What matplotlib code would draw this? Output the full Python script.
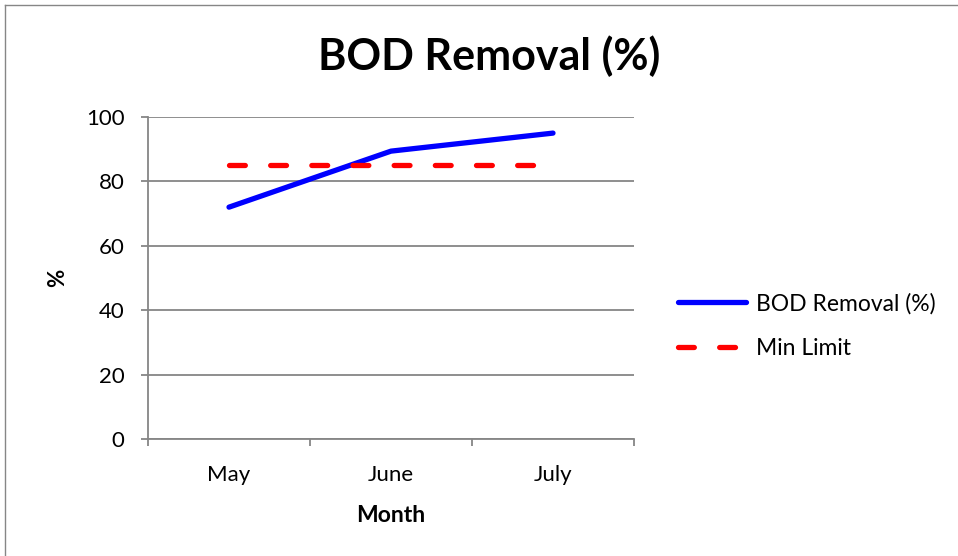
import matplotlib.pyplot as plt
from matplotlib.lines import Line2D

# Data
months = ["May", "June", "July"]
bod_removal = [72, 89.4, 95]
min_limit = [85, 85, 85]
y_ticks = [0, 20, 40, 60, 80, 100]

plt.rcParams['font.family'] = ['Lato', 'DejaVu Sans']
grey = "#868686"

fig = plt.figure(figsize=(9.58, 5.56), dpi=100)
ax = fig.add_axes([148 / 958, 1 - 439 / 556, 486 / 958, 322 / 556])

x = list(range(len(months)))
ax.plot(x, bod_removal, color="#0000ff", lw=3.8, solid_capstyle="round",
        solid_joinstyle="round", label="BOD Removal (%)")
ax.plot(x, min_limit, color="#ff0000", lw=3.8, dashes=(3.0, 4.8),
        dash_capstyle="round", label="Min Limit")

ax.set_xlim(-0.5, len(months) - 0.5)
ax.set_ylim(0, 100)
ax.set_yticks(y_ticks)
ax.yaxis.grid(True, color=grey, lw=1.3)
ax.set_axisbelow(True)

ax.set_xticks(x)
ax.set_xticklabels(months)
ax.set_xticks([i - 0.5 for i in range(len(months) + 1)], minor=True)
ax.tick_params(axis="x", which="major", length=0, pad=19, labelsize=16)
ax.tick_params(axis="x", which="minor", length=5, width=1.3, color=grey, direction="out")
ax.tick_params(axis="y", length=5, width=1.3, color=grey, pad=12, labelsize=16)

for side in ["top", "right"]:
    ax.spines[side].set_visible(False)
for side in ["left", "bottom"]:
    ax.spines[side].set_color(grey)
    ax.spines[side].set_linewidth(1.3)

ax.set_xlabel("Month", fontsize=16.5, fontweight="bold", labelpad=14)
ax.set_ylabel("%", fontsize=16, fontweight="bold", labelpad=13)

fig.text(489 / 958, 1 - 56 / 556, "BOD Removal (%)", fontsize=31, fontweight="bold",
         ha="center", va="center")

ax.legend(loc="center left", bbox_to_anchor=(657 / 958, 1 - 326 / 556),
          bbox_transform=fig.transFigure, frameon=False, fontsize=16.5,
          handlelength=3.0, handletextpad=0.4, labelspacing=1.05)

# outer chart frame
fig.add_artist(Line2D([5 / 958, 5 / 958], [0, 1 - 5 / 556], color=grey, lw=1.0,
                      transform=fig.transFigure))
fig.add_artist(Line2D([5 / 958, 1], [1 - 5 / 556, 1 - 5 / 556], color=grey, lw=1.0,
                      transform=fig.transFigure))

fig.savefig("out.png", dpi=100)
